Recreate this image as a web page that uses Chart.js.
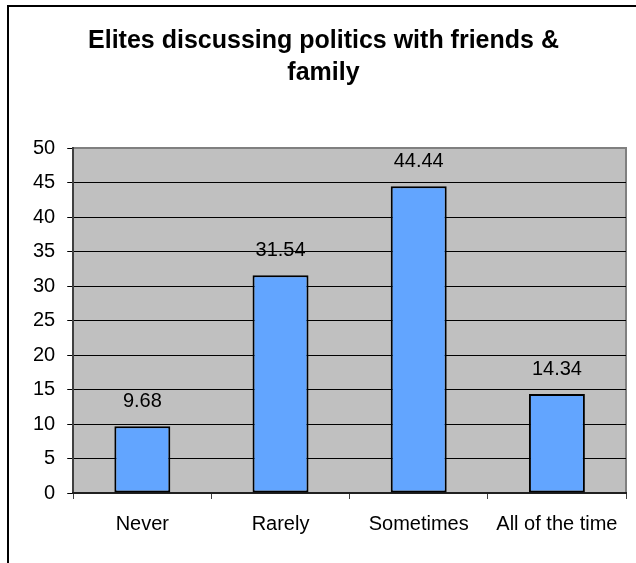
<!DOCTYPE html>
<html>
<head>
<meta charset="utf-8">
<script src="https://cdn.jsdelivr.net/npm/chart.js@4"></script>
<style>
  html, body { margin: 0; padding: 0; background: #fff; }
  #wrap { position: relative; width: 636px; height: 563px; overflow: hidden; }
  #frame { position: absolute; left: 7px; top: 5px; right: -10px; bottom: -10px;
           border-left: 2px solid #000; border-top: 2px solid #000; pointer-events: none; }
  canvas { position: absolute; left: 0; top: 0; }
</style>
</head>
<body>
<div id="wrap">
  <canvas id="chart" width="636" height="563"></canvas>
  <div id="frame"></div>
</div>
<script>
// Datos
const titleLines = ['Elites discussing politics with friends &', 'family'];
const categories = ['Never', 'Rarely', 'Sometimes', 'All of the time'];
const percentages = [9.68, 31.54, 44.44, 14.34];
const yMax = 50;
const yStep = 5;

const FONT = "'Liberation Sans', Arial, sans-serif";

// Fondo gris del área de trazado con borde
const plotBackground = {
    id: 'plotBackground',
    beforeDraw(chart) {
        const { ctx, chartArea: a } = chart;
        ctx.save();
        ctx.fillStyle = '#c0c0c0';
        ctx.fillRect(a.left, a.top, a.right - a.left, a.bottom - a.top);
        ctx.strokeStyle = '#808080';
        ctx.lineWidth = 2;
        ctx.beginPath();
        ctx.moveTo(a.left, a.top);
        ctx.lineTo(a.right, a.top);
        ctx.lineTo(a.right, a.bottom);
        ctx.stroke();
        ctx.restore();
    }
};

// Valores encima de cada barra
const barValues = {
    id: 'barValues',
    afterDatasetsDraw(chart) {
        const { ctx } = chart;
        const meta = chart.getDatasetMeta(0);
        ctx.save();
        ctx.font = '20px ' + FONT;
        ctx.fillStyle = '#000';
        ctx.textAlign = 'center';
        ctx.textBaseline = 'alphabetic';
        meta.data.forEach((bar, i) => {
            ctx.fillText(String(percentages[i]), bar.x, bar.y - 19);
        });
        ctx.restore();
    }
};

new Chart(document.getElementById('chart'), {
    type: 'bar',
    data: {
        labels: categories,
        datasets: [{
            data: percentages,
            backgroundColor: '#62a5ff',
            borderColor: '#000',
            borderWidth: 2,
            borderSkipped: false,
            barPercentage: 0.405,
            categoryPercentage: 1
        }]
    },
    options: {
        responsive: false,
        animation: false,
        events: [],
        layout: { padding: { left: 21, right: 10, top: 0, bottom: 14 } },
        plugins: {
            legend: { display: false },
            tooltip: { enabled: false },
            title: {
                display: true,
                text: titleLines,
                color: '#000',
                font: { family: FONT, size: 25, weight: 'bold', lineHeight: 32 / 25 },
                padding: { top: 25, bottom: 59 }
            }
        },
        scales: {
            y: {
                min: 0,
                max: yMax,
                ticks: {
                    stepSize: yStep,
                    color: '#000',
                    padding: 12,
                    font: { family: FONT, size: 20 }
                },
                grid: {
                    color: (c) => (c.tick && (c.tick.value === 0 || c.tick.value === yMax)) ? 'rgba(0,0,0,0)' : '#000',
                    tickColor: '#000',
                    tickLength: 6,
                    lineWidth: 1
                },
                border: { color: '#404040', width: 2 }
            },
            x: {
                ticks: {
                    color: '#000',
                    padding: 13,
                    font: { family: FONT, size: 20 },
                    maxRotation: 0,
                    autoSkip: false
                },
                grid: {
                    offset: true,
                    drawOnChartArea: false,
                    tickColor: '#404040',
                    tickLength: 6
                },
                border: { color: '#202020', width: 2 }
            }
        }
    },
    plugins: [plotBackground, barValues]
});
</script>
</body>
</html>
